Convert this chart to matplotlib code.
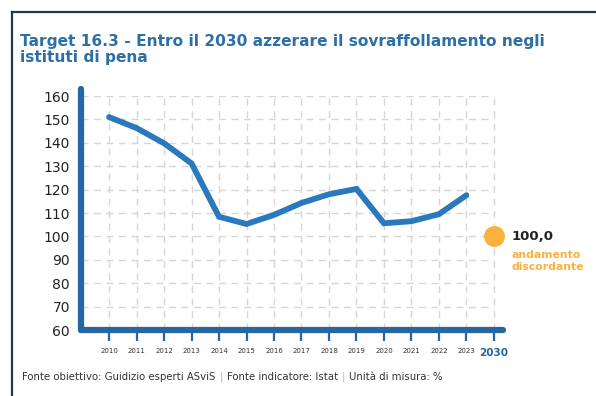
import matplotlib.pyplot as plt
from matplotlib.lines import Line2D

plt.rcParams['font.family'] = ['DejaVu Sans']

years = ['2010', '2011', '2012', '2013', '2014', '2015', '2016',
         '2017', '2018', '2019', '2020', '2021', '2022', '2023']
values = [151.0, 146.3, 139.8, 131.2, 108.4, 105.3, 109.2,
          114.3, 118.0, 120.3, 105.6, 106.5, 109.5, 117.6]
target_year = '2030'
target_value = 100.0
target_label = '100,0'
target_note = 'andamento\ndiscordante'

title = 'Target 16.3 - Entro il 2030 azzerare il sovraffollamento negli\nistituti di pena'
sources = ['Fonte obiettivo: Guidizio esperti ASviS', 'Fonte indicatore: Istat',
           'Unità di misura: %']

BLUE = '#2a78bd'
AXIS_BLUE = '#2467a3'
TITLE_BLUE = '#2d6fa7'
ORANGE = '#fbb040'
FRAME = '#1f3b4d'
GRID = '#d6d6d6'

fig = plt.figure(figsize=(5.96, 3.96), dpi=100)

# page frame: left and top rules
fig.add_artist(Line2D([11.5 / 596, 11.5 / 596], [0, 1 - 11.5 / 396], color=FRAME, lw=1.6,
                      transform=fig.transFigure))
fig.add_artist(Line2D([11.5 / 596, 1], [1 - 11.5 / 396, 1 - 11.5 / 396], color=FRAME, lw=1.6,
                      transform=fig.transFigure))

fig.text(20 / 596, 1 - 34 / 396, title, ha='left', va='top', fontsize=11.1,
         fontweight='bold', color=TITLE_BLUE, linespacing=1.08)

ax = fig.add_axes([81 / 596, 1 - 330 / 396, 422 / 596, 234 / 396])
xs = list(range(len(years)))
tx = len(years)
ax.set_xlim(-1.02, 14.33)
ax.set_ylim(60, 160)

for s in ax.spines.values():
    s.set_visible(False)

# dashed grid
for y in range(70, 161, 10):
    ax.plot([-1.02, tx], [y, y], color=GRID, lw=1, ls=(0, (5, 4)), zorder=1)
for x in xs + [tx]:
    ax.plot([x, x], [60, 160], color=GRID, lw=1, ls=(0, (5, 4)), zorder=1)

# thick axis lines with round caps
ax.plot([-1.02, -1.02], [60, 163], color=AXIS_BLUE, lw=4.5, solid_capstyle='round',
        clip_on=False, zorder=4)
ax.plot([-1.02, 14.33], [60, 60], color=AXIS_BLUE, lw=4.5, solid_capstyle='round',
        clip_on=False, zorder=4)

ax.plot(xs, values, color=BLUE, lw=4.2, solid_joinstyle='miter', solid_capstyle='round',
        zorder=3)
ax.plot([tx], [target_value], 'o', color=ORANGE, ms=14, zorder=5, clip_on=False)

ax.set_yticks(range(60, 161, 10))
ax.tick_params(axis='y', length=0, pad=8, labelsize=10, labelcolor='#222222')
ax.set_xticks(xs + [tx])
ax.set_xticklabels(years + [target_year])
ax.tick_params(axis='x', length=8, width=1.6, color=AXIS_BLUE, direction='out',
               pad=5, labelsize=5.0, labelcolor='#333333')
lab = ax.get_xticklabels()[-1]
lab.set_fontsize(7.5)
lab.set_fontweight('bold')
lab.set_color(AXIS_BLUE)

ax.annotate(target_label, (tx, target_value), xytext=(13, 0), textcoords='offset points',
            ha='left', va='center', fontsize=9.5, fontweight='bold', color='#222222',
            annotation_clip=False)
ax.annotate(target_note, (tx, target_value), xytext=(13, -9.5), textcoords='offset points',
            ha='left', va='top', fontsize=7.8, fontweight='semibold', color=ORANGE,
            linespacing=1.3, annotation_clip=False)

# footer with light separators
fig.canvas.draw()
r = fig.canvas.get_renderer()
x0 = 22 / 596
yb = 1 - 377 / 396
for i, s in enumerate(sources):
    t = fig.text(x0, yb, s, ha='left', va='center', fontsize=7.3, color='#333333')
    w = t.get_window_extent(r).width / fig.bbox.width
    x0 += w
    if i < len(sources) - 1:
        sep = fig.text(x0 + 4 / 596, yb, '|', ha='left', va='center', fontsize=7.3,
                       color='#bbbbbb')
        x0 += sep.get_window_extent(r).width / fig.bbox.width + 8 / 596

fig.savefig('out.png', dpi=100)
